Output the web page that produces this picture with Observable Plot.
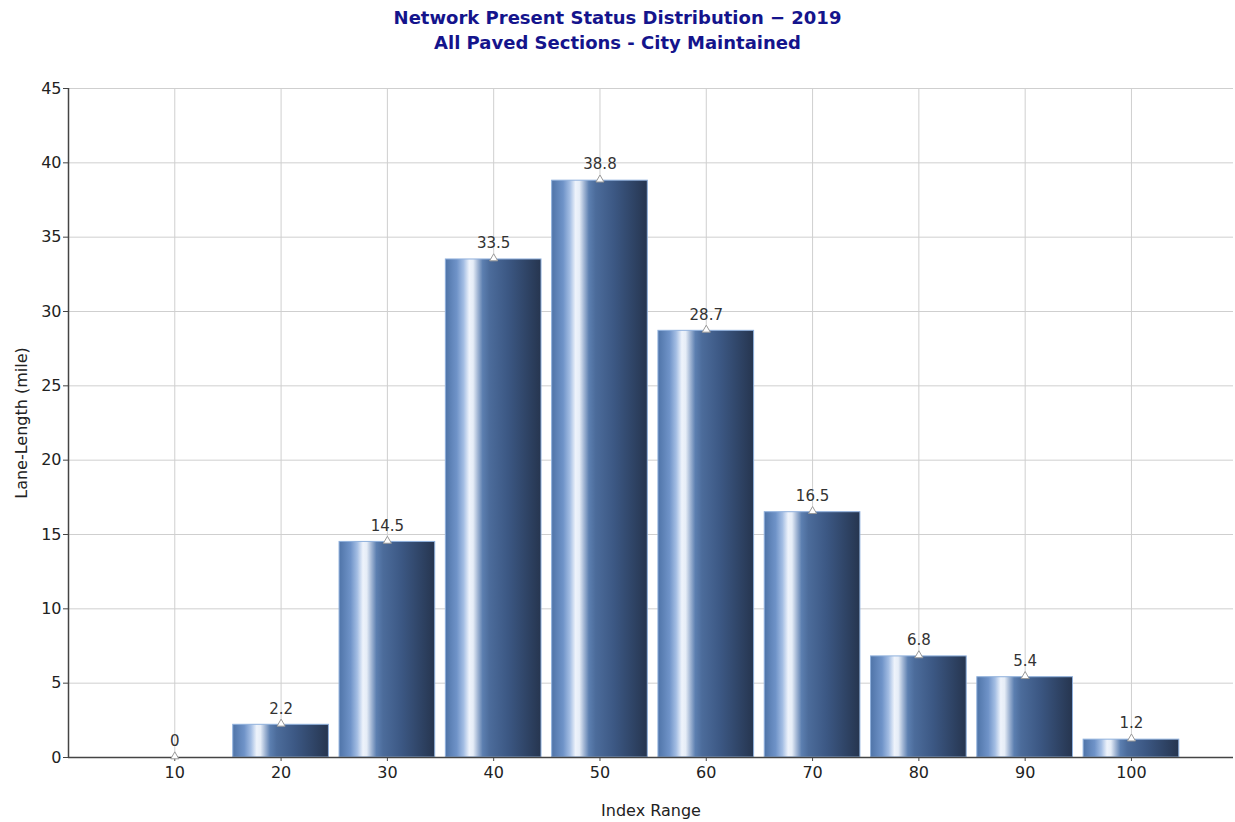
<!DOCTYPE html>
<html>
<head>
<meta charset="utf-8">
<script src="https://cdn.jsdelivr.net/npm/d3@7"></script>
<script src="https://cdn.jsdelivr.net/npm/@observablehq/plot@0.6"></script>
<style>
  html, body { margin: 0; padding: 0; background: #fff; }
  #title { width: 1235px; height: 58px; box-sizing: border-box; padding-top: 5px; text-align: center;
    font-family: "DejaVu Sans", sans-serif; font-weight: bold; font-size: 18px; line-height: 25px; color: #14148c; }
  #chart svg { display: block; }
</style>
</head>
<body>
<div id="title">Network Present Status Distribution − 2019<br>All Paved Sections - City Maintained</div>
<div id="chart"></div>
<script>
const titleLine1 = "Network Present Status Distribution − 2019";
const titleLine2 = "All Paved Sections - City Maintained";
const indexRanges = [10, 20, 30, 40, 50, 60, 70, 80, 90, 100];
const laneLengths = [0, 2.2, 14.5, 33.5, 38.8, 28.7, 16.5, 6.8, 5.4, 1.2];
const yTicks = [0, 5, 10, 15, 20, 25, 30, 35, 40, 45];
const xLabel = "Index Range";
const yLabel = "Lane-Length (mile)";

const data = indexRanges.map((r, i) => ({range: r, value: laneLengths[i]}));
const barHalf = 4.5;

const plot = Plot.plot({
  width: 1235,
  height: 764,
  marginLeft: 68,
  marginRight: 2,
  marginTop: 30,
  marginBottom: 65,
  style: {fontFamily: "DejaVu Sans, sans-serif", fontSize: "16px", color: "#222", background: "#fff"},
  x: {domain: [0, 109.6]},
  y: {domain: [0, 45]},
  marks: [
    Plot.gridX(indexRanges, {stroke: "#cfcfcf", strokeOpacity: 1}),
    Plot.gridY(yTicks, {stroke: "#cfcfcf", strokeOpacity: 1}),
    Plot.rectY(data.filter(d => d.value > 0), {
      x1: d => d.range - barHalf, x2: d => d.range + barHalf, y1: 0, y2: "value",
      fill: "url(#barGrad)", stroke: "#8fb0dc", strokeWidth: 1
    }),
    Plot.axisY(yTicks, {tickSize: 5, tickPadding: 2, label: yLabel, labelAnchor: "center", labelArrow: "none", labelOffset: 53, fontSize: 16, stroke: "#444"}),
    Plot.axisX(indexRanges, {tickSize: 4, tickPadding: 5, label: xLabel, labelAnchor: "center", labelArrow: "none", labelOffset: 58, fontSize: 16, stroke: "#444"}),
    Plot.ruleX([0], {stroke: "#444", strokeWidth: 1.5}),
    Plot.ruleY([0], {stroke: "#444", strokeWidth: 1.5}),
    Plot.dot(data, {x: "range", y: "value", symbol: "triangle", r: 3, fill: "#fff", stroke: "#999", strokeWidth: 1, dy: -1}),
    Plot.text(data, {x: "range", y: "value", text: d => String(d.value), dy: -16, fontSize: 15, fill: "#333"})
  ]
});

const svg = d3.select(plot);
const defs = svg.insert("defs", ":first-child");
const grad = defs.append("linearGradient").attr("id", "barGrad")
  .attr("x1", "0%").attr("x2", "100%").attr("y1", "0%").attr("y2", "0%");
[
  [0, "#4f74a8"], [0.12, "#6f93c8"], [0.19, "#a3bde3"], [0.25, "#eef3fb"], [0.29, "#e6edf7"],
  [0.34, "#9fb4d3"], [0.39, "#5c7fb0"], [0.46, "#4c6c9b"], [0.65, "#3c5884"],
  [0.85, "#2f4466"], [1, "#26354f"]
].forEach(([o, c]) => grad.append("stop").attr("offset", o).attr("stop-color", c));

document.getElementById("chart").appendChild(plot);
</script>
</body>
</html>
